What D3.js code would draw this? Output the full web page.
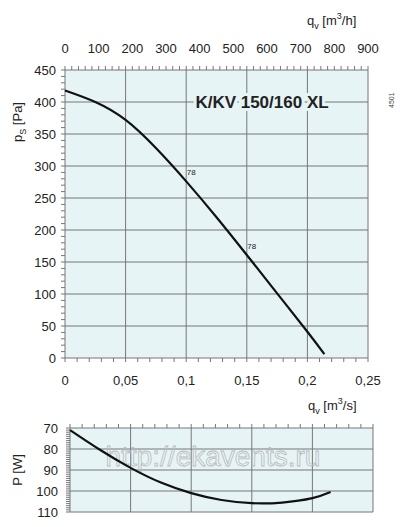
<!DOCTYPE html><html><head><script src="https://cdn.jsdelivr.net/npm/d3@7"></script>
<style>body{margin:0;background:#fff}text{font-family:Arial,"Liberation Sans",sans-serif}</style></head><body>
<svg id="c" width="404" height="527"></svg>
<script>
const qs=[0,0.025,0.05,0.075,0.1,0.125,0.15,0.175,0.2,0.214];
const ps=[418,400,372,328,276,220,161,101,41,6];
const qp=[0,0.025,0.05,0.075,0.1,0.125,0.15,0.175,0.2,0.215];
const pw=[71,80.5,89,96,101,104.3,105.8,105.5,103.4,100.5];
const xTicks=[0,0.05,0.1,0.15,0.2,0.25];
const xTickLabels=["0","0,05","0,1","0,15","0,2","0,25"];
const hTicks=[0,100,200,300,400,500,600,700,800,900];
const yTicks=[0,50,100,150,200,250,300,350,400,450];
const pTicks=[70,80,90,100,110];
const eff=[{q:0.1,p:276,t:"78"},{q:0.15,p:161,t:"78"}];

const svg=d3.select("#c"),g="#777",bg="#e6f4f6";
const x=d3.scaleLinear([0,0.25],[65,368]);
const xh=d3.scaleLinear([0,900],[65,368]);
const y=d3.scaleLinear([0,450],[358,70]);
svg.append("rect").attr("x",65).attr("y",70).attr("width",303).attr("height",288).attr("fill",bg);
const gr=svg.append("g").attr("stroke",g).attr("stroke-width",1);
xTicks.forEach(t=>gr.append("line").attr("x1",x(t)).attr("x2",x(t)).attr("y1",70).attr("y2",358));
yTicks.forEach(t=>gr.append("line").attr("x1",65).attr("x2",368).attr("y1",y(t)).attr("y2",y(t)));
d3.range(0,0.2501,0.01).forEach(t=>gr.append("line").attr("x1",x(t)).attr("x2",x(t)).attr("y1",358).attr("y2",362));
d3.range(0,901,20).forEach(t=>gr.append("line").attr("x1",xh(t)).attr("x2",xh(t)).attr("y1",70).attr("y2",66));
d3.range(0,451,10).forEach(t=>gr.append("line").attr("x1",61).attr("x2",65).attr("y1",y(t)).attr("y2",y(t)));
yTicks.forEach(t=>svg.append("text").attr("x",56).attr("y",y(t)+5).attr("text-anchor","end").attr("font-size",13).attr("fill","#222").text(t));
xTicks.forEach((t,i)=>svg.append("text").attr("x",x(t)).attr("y",385).attr("text-anchor","middle").attr("font-size",13).attr("fill","#222").text(xTickLabels[i]));
hTicks.forEach(t=>svg.append("text").attr("x",xh(t)).attr("y",53).attr("text-anchor","middle").attr("font-size",13).attr("fill","#222").text(t));
const t1=svg.append("text").attr("x",307).attr("y",25).attr("font-size",13).attr("fill","#222");
t1.append("tspan").text("q");t1.append("tspan").attr("font-size",9).attr("dy",4).text("v");t1.append("tspan").attr("dy",-4).text("  [m");t1.append("tspan").attr("font-size",9).attr("dy",-6).text("3");t1.append("tspan").attr("dy",6).text("/h]");
const t2=svg.append("text").attr("x",308).attr("y",410).attr("font-size",13).attr("fill","#222");
t2.append("tspan").text("q");t2.append("tspan").attr("font-size",9).attr("dy",4).text("v");t2.append("tspan").attr("dy",-4).text("  [m");t2.append("tspan").attr("font-size",9).attr("dy",-6).text("3");t2.append("tspan").attr("dy",6).text("/s]");
const t3=svg.append("text").attr("transform","translate(22,142) rotate(-90)").attr("font-size",13).attr("fill","#222");
t3.append("tspan").text("p");t3.append("tspan").attr("font-size",9).attr("dy",4).text("S");t3.append("tspan").attr("dy",-4).text(" [Pa]");
svg.append("text").attr("x",394).attr("y",108).attr("transform","rotate(-90,394,108)").attr("font-size",7).attr("fill","#444").text("4501");
svg.append("text").attr("x",262).attr("y",108).attr("text-anchor","middle").attr("font-size",17).attr("font-weight","bold").attr("fill","#222").attr("stroke",bg).attr("stroke-width",6).attr("paint-order","stroke").text("K/KV 150/160 XL");
svg.append("path").attr("d",d3.line().x((d,i)=>x(qs[i])).y(d=>y(d)).curve(d3.curveNatural)(ps)).attr("fill","none").attr("stroke","#111").attr("stroke-width",2.2);
eff.forEach(e=>svg.append("text").attr("x",x(e.q)+5).attr("y",y(e.p)-6).attr("text-anchor","middle").attr("font-size",8).attr("fill","#222").text(e.t));
const x2=d3.scaleLinear([0,0.25],[70,373]);
const y2=d3.scaleLinear([70,110],[428,512]);
svg.append("rect").attr("x",70).attr("y",428).attr("width",303).attr("height",84).attr("fill",bg);
const g2=svg.append("g").attr("stroke",g);
xTicks.forEach(t=>g2.append("line").attr("x1",x2(t)).attr("x2",x2(t)).attr("y1",428).attr("y2",512));
pTicks.forEach(t=>g2.append("line").attr("x1",70).attr("x2",373).attr("y1",y2(t)).attr("y2",y2(t)));
d3.range(0,0.2501,0.01).forEach(t=>g2.append("line").attr("x1",x2(t)).attr("x2",x2(t)).attr("y1",428).attr("y2",424));
d3.range(70,110.1,1).forEach(t=>g2.append("line").attr("x1",66).attr("x2",70).attr("y1",y2(t)).attr("y2",y2(t)));
pTicks.forEach(t=>svg.append("text").attr("x",58).attr("y",y2(t)+5).attr("text-anchor","end").attr("font-size",13).attr("fill","#222").text(t));
svg.append("text").attr("transform","translate(22,470) rotate(-90)").attr("text-anchor","middle").attr("font-size",13).attr("fill","#222").text("P [W]");
svg.append("text").attr("x",213).attr("y",466).attr("text-anchor","middle").attr("font-size",28).attr("fill","none").attr("stroke","#bbb").attr("stroke-width",0.8).text("http://ekavents.ru");
svg.append("path").attr("d",d3.line().x((d,i)=>x2(qp[i])).y(d=>y2(d)).curve(d3.curveNatural)(pw)).attr("fill","none").attr("stroke","#111").attr("stroke-width",2.2);
</script></body></html>
